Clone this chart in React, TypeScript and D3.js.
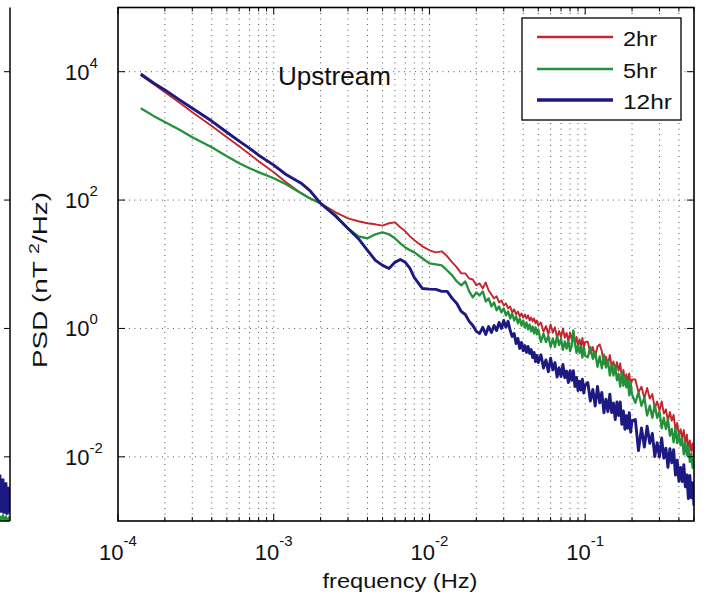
import React from "react";
import * as d3 from "d3";

// Frequency grid (Hz)
const freq = [
  0.00014, 0.00017, 0.0002, 0.00025, 0.0003, 0.0004, 0.0005, 0.0006, 0.0007, 0.0008,
  0.001, 0.0012, 0.0015, 0.0017, 0.002, 0.0025, 0.003, 0.0035, 0.004, 0.0045,
  0.005, 0.0055, 0.006, 0.0065, 0.007, 0.0075, 0.008, 0.009, 0.01,
  0.011, 0.012, 0.013, 0.014, 0.015, 0.016, 0.017, 0.018, 0.019, 0.02,
  0.021, 0.022, 0.023, 0.024, 0.025, 0.026, 0.027, 0.028, 0.029, 0.03,
  0.031, 0.032, 0.033, 0.034, 0.035, 0.036, 0.037, 0.038, 0.039, 0.04,
  0.041, 0.042, 0.043, 0.044, 0.045, 0.046, 0.047, 0.048, 0.049, 0.05,
  0.052, 0.054, 0.056, 0.058, 0.06, 0.062, 0.064, 0.066, 0.068, 0.07,
  0.072, 0.074, 0.076, 0.078, 0.08, 0.082, 0.084, 0.086, 0.088, 0.09,
  0.092, 0.094, 0.096, 0.098, 0.1,
  0.104, 0.108, 0.112, 0.116, 0.12, 0.124, 0.128, 0.132, 0.136, 0.14,
  0.144, 0.148, 0.152, 0.156, 0.16, 0.164, 0.168, 0.172, 0.176, 0.18,
  0.184, 0.188, 0.192, 0.196, 0.2,
  0.21, 0.22, 0.23, 0.24, 0.25, 0.26, 0.27, 0.28, 0.29, 0.3,
  0.31, 0.32, 0.33, 0.34, 0.35, 0.36, 0.37, 0.38, 0.39, 0.4,
  0.41, 0.42, 0.43, 0.44, 0.45, 0.46, 0.47, 0.48, 0.49, 0.5,
];

// PSD (nT^2/Hz), 2hr window
const psd2hr = [
  8800, 6400, 4800, 3240, 2340, 1420, 955, 690, 518, 403,
  272, 190, 128, 107, 89, 64.5, 52, 46.7, 43.5, 41.9,
  40, 43.5, 45, 37.6, 32.6, 27.2, 23.6, 19.0, 16.5,
  15.3, 15.9, 13.3, 10.7, 8.95, 7.2, 7.2, 6.0, 5.8, 4.7,
  5.03, 4.2, 5.2, 3.9, 3.39, 2.94, 3.16, 2.54, 2.73, 2.28,
  2.45, 2.05, 2.2, 1.78, 1.98, 1.65, 1.84, 1.54, 1.71, 1.48,
  1.65, 1.43, 1.6, 1.33, 1.48, 1.29, 1.43, 1.2, 1.33, 1.11,
  1.24, 0.888, 1.09, 0.812, 1.15, 0.857, 1.04, 0.716, 0.914, 0.729,
  1.0, 0.716, 0.851, 0.631, 0.866, 0.679, 0.866, 0.577, 0.737, 0.527,
  0.673, 0.537, 0.711, 0.5, 0.615,
  0.622, 0.409, 0.513, 0.352, 0.524, 0.563, 0.441, 0.277, 0.363, 0.271,
  0.387, 0.255, 0.306, 0.21, 0.299, 0.219, 0.286, 0.173, 0.226, 0.148,
  0.194, 0.145, 0.199, 0.128, 0.16,
  0.16, 0.101, 0.124, 0.082, 0.118, 0.0812, 0.0948, 0.0573, 0.0726, 0.0524,
  0.0731, 0.0472, 0.0549, 0.0362, 0.0501, 0.0365, 0.0451, 0.0263, 0.0338, 0.0213,
  0.027, 0.0196, 0.0261, 0.0162, 0.0222, 0.013, 0.018, 0.0123, 0.0161, 0.0101,
];

// PSD (nT^2/Hz), 5hr window
const psd5hr = [
  2700, 2030, 1640, 1230, 955, 666, 482, 375, 313, 272,
  219, 176, 128, 107, 89, 58, 36, 27.2, 25.4, 29.3,
  31.5, 29.3, 25.4, 21.2, 18.3, 16.5, 15.3, 12.4, 10.3,
  9.96, 9.6, 8.0, 6.7, 5.4, 4.7, 5.4, 3.78, 3.05, 3.64,
  3.27, 3.78, 2.64, 2.94, 2.2, 2.54, 1.91, 2.2, 1.78, 2.05,
  1.6, 1.84, 1.43, 1.71, 1.33, 1.54, 1.2, 1.43, 1.11, 1.33,
  1.04, 1.24, 0.965, 1.15, 0.9, 1.07, 0.836, 1.04, 0.806, 0.965,
  0.614, 0.83, 0.614, 0.761, 0.516, 0.698, 0.516, 0.761, 0.551, 0.684,
  0.464, 0.627, 0.484, 0.655, 0.444, 0.539, 0.931, 0.588, 0.416, 0.551,
  0.416, 0.516, 0.35, 0.506, 0.374,
  0.355, 0.516, 0.336, 0.436, 0.253, 0.367, 0.239, 0.389, 0.245, 0.319,
  0.185, 0.269, 0.185, 0.269, 0.156, 0.196, 0.124, 0.208, 0.128, 0.18,
  0.121, 0.156, 0.0908, 0.144, 0.0934,
  0.0693, 0.101, 0.0622, 0.0839, 0.0439, 0.0625, 0.0406, 0.0643, 0.0406, 0.0504,
  0.0279, 0.0407, 0.0272, 0.0386, 0.0213, 0.0272, 0.0168, 0.0279, 0.0163, 0.0232,
  0.0151, 0.0192, 0.0109, 0.0168, 0.0106, 0.0147, 0.00836, 0.0112, 0.00673, 0.00931,
];

// PSD (nT^2/Hz), 12hr window
const psd12hr = [
  9200, 6600, 5200, 3600, 2700, 1700, 1140, 830, 640, 500,
  350, 250, 183, 142, 89, 56, 36, 25, 16.5, 11.5,
  9.6, 8.6, 10.7, 11.9, 10.7, 8.6, 6.2, 4.2, 4.1,
  4.06, 3.78, 3.78, 2.94, 2.45, 1.84, 1.65, 1.29, 1.11, 0.9,
  0.836, 1.04, 0.806, 1.07, 0.866, 1.11, 0.93, 1.24, 1.0, 1.33,
  1.04, 1.29, 0.93, 0.75, 0.836, 0.583, 0.698, 0.488, 0.605, 0.45,
  0.54, 0.422, 0.524, 0.407, 0.47, 0.353, 0.422, 0.306, 0.38, 0.295,
  0.388, 0.242, 0.323, 0.212, 0.344, 0.226, 0.294, 0.175, 0.244, 0.178,
  0.274, 0.171, 0.217, 0.143, 0.22, 0.156, 0.219, 0.124, 0.173, 0.108,
  0.151, 0.11, 0.162, 0.0986, 0.131,
  0.144, 0.074, 0.112, 0.062, 0.125, 0.0693, 0.101, 0.0486, 0.0789, 0.0505,
  0.0948, 0.0488, 0.0688, 0.038, 0.0716, 0.0441, 0.0716, 0.032, 0.052, 0.0269,
  0.0436, 0.0279, 0.0488, 0.0242, 0.0367,
  0.038, 0.0125, 0.0282, 0.0142, 0.03, 0.0162, 0.0232, 0.0101, 0.0166, 0.00996,
  0.0196, 0.00954, 0.0136, 0.00684, 0.0134, 0.00809, 0.0129, 0.0052, 0.00889, 0.00415,
  0.00684, 0.00412, 0.00753, 0.0034, 0.0052, 0.00223, 0.00514, 0.0023, 0.00396, 0.00173,
];

const seriesNames = ["2hr", "5hr", "12hr"];
const seriesColors = ["#c4262e", "#23903a", "#1c1a82"];
const seriesWidths = [1.9, 2.3, 2.9];

// Neighbouring (left) panel remnant
const leftFreq = [0.43, 0.44, 0.45, 0.46, 0.47, 0.48, 0.49, 0.5];
const leftBlue = [0.0053, 0.00135, 0.0046, 0.0013, 0.004, 0.00125, 0.0034, 0.00135];
const leftGreen = [0.0012, 0.00105, 0.0012, 0.00105, 0.00115, 0.001, 0.0011, 0.001];

const yTickExps = [-2, 0, 2, 4];
const xTickExps = [-4, -3, -2, -1];
const plotTitle = "Upstream";
const xLabel = "frequency (Hz)";

export default function App() {
  const W = 709;
  const H = 604;
  const L = 118, R = 694, T = 7.5, B = 521;
  const x = d3.scaleLog().domain([1e-4, 0.5]).range([L, R]);
  const y = d3.scaleLog().domain([1e-3, 1e5]).range([B, T]);
  const xLeft = d3.scaleLog().domain([1e-4, 0.5]).range([10 - (R - L), 10]);

  const mkLine = (xs: d3.ScaleLogarithmic<number, number>) =>
    d3.line<[number, number]>().x((d) => xs(d[0])).y((d) => y(d[1]));
  const line = mkLine(x);
  const lineLeft = mkLine(xLeft);

  const allSeries = [psd2hr, psd5hr, psd12hr];

  const minorX: number[] = [];
  for (let k = -4; k <= -1; k++) {
    for (let m = 1; m <= 9; m++) {
      const v = m * Math.pow(10, k);
      if (v <= 0.5 + 1e-12) minorX.push(v);
    }
  }
  const majorY = yTickExps.map((e) => Math.pow(10, e));

  const font = "'Liberation Sans', Arial, sans-serif";

  return (
    <svg
      width={W}
      height={H}
      viewBox={`0 0 ${W} ${H}`}
      style={{ position: "absolute", left: 0, top: 0, background: "#fff" }}
      fontFamily={font}
    >
      <rect x={0} y={0} width={W} height={H} fill="#fff" />
      <defs>
        <clipPath id="plotClip">
          <rect x={L} y={T} width={R - L} height={B - T} />
        </clipPath>
        <clipPath id="leftClip">
          <rect x={0} y={T} width={10} height={B - T} />
        </clipPath>
      </defs>

      {/* left panel remnant */}
      <g clipPath="url(#leftClip)">
        <path d={lineLeft(leftFreq.map((f, i) => [f, leftGreen[i]]) as any) || ""} fill="none" stroke={seriesColors[1]} strokeWidth={2.5} />
        <path d={lineLeft(leftFreq.map((f, i) => [f, leftBlue[i]]) as any) || ""} fill="none" stroke={seriesColors[2]} strokeWidth={3} />
      </g>
      <line x1={10} x2={10} y1={T} y2={B} stroke="#000" strokeWidth={1.5} />
      <line x1={0} x2={10} y1={B} y2={B} stroke="#000" strokeWidth={1.5} />
      {majorY.map((v, i) => (
        <line key={"lt" + i} x1={4} x2={10} y1={y(v)} y2={y(v)} stroke="#000" strokeWidth={1} />
      ))}

      {/* grid */}
      <g stroke="#555" strokeWidth={1} strokeDasharray="1,4.5">
        {minorX
          .filter((v) => v > 1e-4 * 1.01 && v < 0.5 * 0.99)
          .map((v, i) => (
            <line key={"gx" + i} x1={x(v)} x2={x(v)} y1={T} y2={B} />
          ))}
        {majorY.map((v, i) => (
          <line key={"gy" + i} x1={L} x2={R} y1={y(v)} y2={y(v)} />
        ))}
      </g>

      {/* data */}
      <g clipPath="url(#plotClip)">
        {allSeries.map((vals, si) => (
          <path
            key={"s" + si}
            d={line(freq.map((f, i) => [f, vals[i]]) as any) || ""}
            fill="none"
            stroke={seriesColors[si]}
            strokeWidth={seriesWidths[si]}
            strokeLinejoin="round"
          />
        ))}
      </g>

      {/* ticks */}
      <g stroke="#000" strokeWidth={1}>
        {minorX.map((v, i) => {
          const major = Math.abs(Math.log10(v) - Math.round(Math.log10(v))) < 1e-9;
          const len = major ? 7 : 4;
          return (
            <g key={"tx" + i}>
              <line x1={x(v)} x2={x(v)} y1={B} y2={B - len} />
              <line x1={x(v)} x2={x(v)} y1={T} y2={T + len} />
            </g>
          );
        })}
        {majorY.map((v, i) => (
          <g key={"ty" + i}>
            <line x1={L} x2={L + 7} y1={y(v)} y2={y(v)} />
            <line x1={R} x2={R - 7} y1={y(v)} y2={y(v)} />
          </g>
        ))}
      </g>

      {/* frame */}
      <rect x={L} y={T} width={R - L} height={B - T} fill="none" stroke="#000" strokeWidth={1.6} />

      {/* y tick labels */}
      {yTickExps.map((e, i) => (
        <text key={"yl" + i} x={65} y={y(Math.pow(10, e)) + 8} fontSize={22} fill="#111">
          <tspan>10</tspan>
          <tspan dy={-12} fontSize={15}>{e < 0 ? "-" + Math.abs(e) : String(e)}</tspan>
        </text>
      ))}

      {/* x tick labels */}
      {xTickExps.map((e, i) => (
        <text key={"xl" + i} x={x(Math.pow(10, e))} y={560} fontSize={22} fill="#111" textAnchor="middle">
          <tspan>10</tspan>
          <tspan dy={-14} fontSize={15}>{e < 0 ? "-" + Math.abs(e) : String(e)}</tspan>
        </text>
      ))}

      {/* axis labels */}
      <text x={400} y={588} fontSize={20} textAnchor="middle" fill="#111" textLength={155} lengthAdjust="spacingAndGlyphs">
        {xLabel}
      </text>
      <text
        transform="translate(47,280) rotate(-90)"
        fontSize={20}
        textAnchor="middle"
        fill="#111"
        textLength={176}
        lengthAdjust="spacingAndGlyphs"
      >
        <tspan>PSD (nT  </tspan>
        <tspan dy={-8} fontSize={14}>2</tspan>
        <tspan dy={8}>/Hz)</tspan>
      </text>

      {/* title in plot */}
      <text x={278} y={85} fontSize={25} fill="#111" textLength={113} lengthAdjust="spacingAndGlyphs">
        {plotTitle}
      </text>

      {/* legend */}
      <rect x={522} y={18} width={159} height={102} fill="#fff" stroke="#111" strokeWidth={1.4} />
      {seriesNames.map((name, i) => {
        const ly = [37, 69, 100][i];
        return (
          <g key={"lg" + i}>
            <line x1={537} x2={613} y1={ly} y2={ly} stroke={seriesColors[i]} strokeWidth={seriesWidths[i] + 0.4} />
            <text x={623} y={ly + 9} fontSize={20} fill="#111" textLength={name.length === 4 ? 49 : 34} lengthAdjust="spacingAndGlyphs">
              {name}
            </text>
          </g>
        );
      })}
    </svg>
  );
}
